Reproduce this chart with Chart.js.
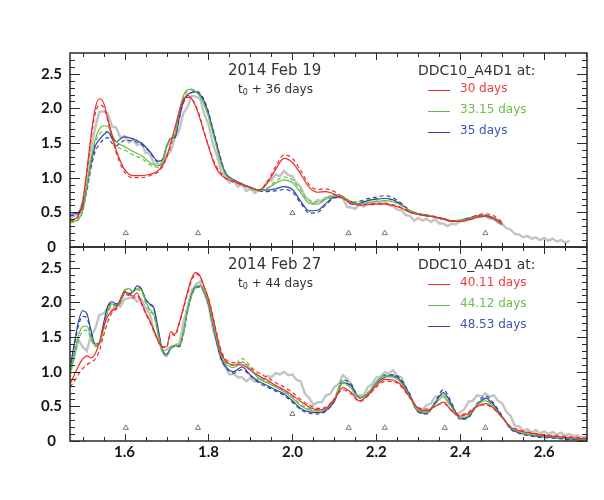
<!DOCTYPE html>
<html><head><meta charset="utf-8">
<script src="https://cdn.jsdelivr.net/npm/chart.js@4.4.0/dist/chart.umd.min.js"></script>
<style>
html,body{margin:0;padding:0;background:#fff;}
#wrap{position:relative;width:604px;height:500px;overflow:hidden;background:#fff;}
canvas{position:absolute;left:0;}
.t{position:absolute;white-space:nowrap;font-family:"DejaVu Sans",sans-serif;color:#333;z-index:5;}
.lg{position:absolute;height:0;width:22px;z-index:5;}
</style></head><body>
<div id="wrap">
<canvas id="c1" width="604" height="270" style="top:0px"></canvas>
<canvas id="c2" width="604" height="273" style="top:227px"></canvas>
</div>
<script>
// ---------------- DATA ----------------
const xTickValues = [1.6, 1.8, 2.0, 2.2, 2.4, 2.6];
const xMinorTicks = [1.5, 1.55, 1.65, 1.7, 1.75, 1.85, 1.9, 1.95, 2.05, 2.1, 2.15, 2.25, 2.3, 2.35, 2.45, 2.5, 2.55, 2.65, 2.7];
const yTickValues = [0, 0.5, 1.0, 1.5, 2.0, 2.5];
const yMinorTicks = [0.1, 0.2, 0.3, 0.4, 0.6, 0.7, 0.8, 0.9, 1.1, 1.2, 1.3, 1.4, 1.6, 1.7, 1.8, 1.9, 2.1, 2.2, 2.3, 2.4, 2.6, 2.7];

const panelDates = ['2014 Feb 19', '2014 Feb 27'];
const panelEpochs = ['36', '44'];
const modelName = 'DDC10_A4D1 at:';
const legendTop = ['30 days', '33.15 days', '35 days'];
const legendBottom = ['40.11 days', '44.12 days', '48.53 days'];

// observed spectrum wavelengths
const obsWave = [1.47,1.48,1.49,1.50,1.51,1.52,1.53,1.54,1.55,1.56,1.57,1.58,1.59,1.60,1.61,1.62,1.63,1.64,1.65,1.66,1.67,1.68,1.69,1.70,1.71,1.72,1.73,1.74,1.75,1.76,1.77,1.78,1.79,1.80,1.81,1.82,1.83,1.84,1.85,1.86,1.87,1.88,1.89,1.90,1.91,1.92,1.93,1.94,1.95,1.96,1.97,1.98,1.99,2.00,2.01,2.02,2.03,2.04,2.05,2.06,2.07,2.08,2.09,2.10,2.11,2.12,2.13,2.14,2.15,2.16,2.17,2.18,2.19,2.20,2.21,2.22,2.23,2.24,2.25,2.26,2.27,2.28,2.29,2.30,2.31,2.32,2.33,2.34,2.35,2.36,2.37,2.38,2.39,2.40,2.41,2.42,2.43,2.44,2.45,2.46,2.47,2.48,2.49,2.50,2.51,2.52,2.53,2.54,2.55,2.56,2.57,2.58,2.59,2.60,2.61,2.62,2.63,2.64,2.65,2.66,2.67,2.68,2.69,2.70];

const obsTop = [0.42,0.45,0.47,0.64,0.93,1.42,1.72,1.95,1.96,1.93,1.74,1.72,1.58,1.60,1.51,1.55,1.47,1.50,1.36,1.35,1.21,1.20,1.16,1.34,1.38,1.58,1.68,1.93,2.02,2.18,2.17,2.14,1.92,1.77,1.49,1.32,1.09,1.02,0.93,0.95,0.87,0.90,0.81,0.84,0.78,0.82,0.84,0.95,0.96,1.05,1.02,1.10,1.04,1.02,0.92,0.87,0.72,0.68,0.62,0.68,0.66,0.72,0.70,0.76,0.72,0.71,0.58,0.57,0.55,0.62,0.58,0.64,0.61,0.66,0.62,0.65,0.60,0.59,0.54,0.53,0.46,0.45,0.38,0.42,0.38,0.41,0.36,0.40,0.34,0.34,0.30,0.34,0.33,0.37,0.37,0.41,0.41,0.45,0.44,0.45,0.41,0.41,0.35,0.33,0.27,0.25,0.19,0.18,0.14,0.16,0.12,0.14,0.10,0.13,0.09,0.12,0.08,0.10,0.06,0.09];

const obsBottom = [1.05,1.22,1.46,1.36,1.30,1.52,1.62,1.82,1.84,1.92,1.88,1.97,1.94,2.05,2.06,2.08,2.01,2.05,1.92,1.84,1.58,1.47,1.30,1.32,1.36,1.38,1.38,1.70,1.93,2.17,2.26,2.30,2.14,1.97,1.63,1.42,1.18,1.07,0.96,0.97,0.92,0.92,0.86,0.91,0.86,0.90,0.88,0.94,0.92,0.98,0.96,1.00,0.95,0.96,0.88,0.86,0.68,0.62,0.52,0.56,0.56,0.66,0.68,0.78,0.82,0.95,0.90,0.82,0.64,0.66,0.66,0.78,0.82,0.92,0.93,0.99,0.98,1.02,0.94,0.92,0.76,0.67,0.50,0.48,0.45,0.52,0.54,0.64,0.64,0.68,0.56,0.50,0.38,0.42,0.46,0.57,0.58,0.66,0.64,0.69,0.64,0.66,0.58,0.54,0.42,0.36,0.22,0.21,0.15,0.17,0.12,0.16,0.11,0.14,0.10,0.13,0.09,0.12,0.08,0.10,0.07,0.08,0.05,0.06];

// model wavelengths
const waveTop = [1.47,1.48,1.49,1.50,1.51,1.52,1.53,1.54,1.55,1.56,1.57,1.58,1.59,1.60,1.62,1.64,1.66,1.68,1.69,1.70,1.71,1.72,1.73,1.74,1.75,1.76,1.77,1.78,1.79,1.80,1.81,1.82,1.83,1.84,1.86,1.88,1.90,1.92,1.94,1.96,1.98,2.00,2.02,2.04,2.06,2.08,2.10,2.12,2.14,2.16,2.18,2.20,2.22,2.24,2.26,2.28,2.30,2.32,2.34,2.36,2.38,2.40,2.42,2.44,2.46,2.48,2.50];

const redTop = [0.38,0.40,0.45,0.65,1.10,1.60,2.00,2.14,2.08,1.85,1.62,1.40,1.24,1.12,1.03,1.03,1.05,1.10,1.18,1.30,1.50,1.72,1.95,2.12,2.19,2.14,2.02,1.85,1.64,1.45,1.26,1.12,1.04,0.99,0.95,0.90,0.86,0.82,0.92,1.12,1.28,1.22,1.05,0.86,0.79,0.80,0.76,0.70,0.64,0.60,0.61,0.62,0.62,0.60,0.56,0.50,0.47,0.45,0.43,0.40,0.37,0.37,0.39,0.43,0.45,0.42,0.34];
const redTopD = [0.37,0.39,0.44,0.62,1.05,1.55,1.92,2.05,2.02,1.82,1.58,1.36,1.20,1.08,1.00,1.00,1.03,1.08,1.16,1.28,1.46,1.70,1.93,2.08,2.16,2.14,2.04,1.87,1.66,1.46,1.28,1.15,1.06,1.00,0.94,0.89,0.85,0.82,0.94,1.16,1.33,1.28,1.10,0.90,0.83,0.84,0.80,0.72,0.66,0.61,0.62,0.63,0.63,0.61,0.57,0.51,0.48,0.46,0.44,0.41,0.38,0.38,0.41,0.46,0.48,0.45,0.36];
const greenTop = [0.36,0.37,0.40,0.52,0.85,1.25,1.55,1.70,1.75,1.74,1.62,1.52,1.48,1.45,1.38,1.32,1.22,1.17,1.24,1.45,1.56,1.62,1.95,2.18,2.27,2.28,2.24,2.17,2.05,1.88,1.65,1.42,1.20,1.05,0.96,0.90,0.85,0.81,0.84,0.92,0.97,0.93,0.78,0.63,0.62,0.69,0.74,0.72,0.64,0.62,0.64,0.66,0.67,0.65,0.60,0.52,0.48,0.45,0.43,0.40,0.37,0.38,0.40,0.44,0.45,0.41,0.33];
const greenTopD = [0.35,0.36,0.39,0.50,0.82,1.20,1.50,1.63,1.67,1.66,1.56,1.46,1.42,1.40,1.33,1.28,1.19,1.15,1.20,1.42,1.55,1.60,1.92,2.15,2.25,2.27,2.24,2.18,2.07,1.90,1.67,1.44,1.22,1.06,0.96,0.90,0.85,0.81,0.85,0.95,1.01,0.97,0.82,0.67,0.65,0.71,0.75,0.73,0.66,0.65,0.68,0.70,0.70,0.67,0.61,0.53,0.49,0.46,0.44,0.41,0.38,0.39,0.42,0.45,0.46,0.42,0.34];
const blueTop = [0.47,0.48,0.50,0.58,0.85,1.20,1.45,1.55,1.62,1.66,1.58,1.52,1.56,1.59,1.56,1.50,1.38,1.24,1.26,1.45,1.57,1.58,1.85,2.10,2.20,2.23,2.24,2.20,2.10,1.93,1.70,1.47,1.24,1.07,0.97,0.91,0.86,0.82,0.82,0.84,0.87,0.83,0.66,0.52,0.53,0.63,0.72,0.72,0.62,0.63,0.67,0.69,0.70,0.68,0.61,0.52,0.47,0.45,0.43,0.40,0.37,0.38,0.40,0.43,0.44,0.40,0.32];
const blueTopD = [0.45,0.46,0.48,0.55,0.80,1.14,1.38,1.48,1.55,1.58,1.50,1.46,1.50,1.54,1.53,1.48,1.37,1.23,1.25,1.44,1.56,1.58,1.84,2.08,2.19,2.23,2.25,2.22,2.12,1.95,1.72,1.49,1.26,1.08,0.97,0.91,0.86,0.81,0.80,0.81,0.83,0.79,0.63,0.49,0.50,0.61,0.71,0.72,0.64,0.66,0.70,0.72,0.74,0.71,0.63,0.53,0.48,0.46,0.43,0.41,0.38,0.39,0.42,0.45,0.46,0.41,0.33];

const waveBottom = [1.47,1.48,1.49,1.50,1.51,1.52,1.53,1.54,1.55,1.56,1.57,1.58,1.59,1.60,1.61,1.62,1.63,1.64,1.65,1.66,1.67,1.68,1.69,1.70,1.71,1.72,1.73,1.74,1.75,1.76,1.77,1.78,1.79,1.80,1.81,1.82,1.83,1.84,1.86,1.88,1.90,1.92,1.94,1.96,1.98,2.00,2.02,2.04,2.06,2.08,2.10,2.12,2.14,2.16,2.18,2.20,2.22,2.24,2.26,2.28,2.30,2.32,2.34,2.36,2.38,2.40,2.42,2.44,2.46,2.48,2.50,2.52,2.54,2.56,2.58,2.60,2.62,2.64,2.66,2.68,2.70];

const redBottom = [0.82,0.95,1.08,1.18,1.23,1.20,1.26,1.42,1.65,1.80,1.88,1.92,2.05,2.16,2.12,2.09,2.14,2.00,1.86,1.74,1.60,1.45,1.36,1.36,1.58,1.54,1.70,1.92,2.15,2.35,2.43,2.38,2.22,2.05,1.80,1.52,1.28,1.16,1.10,1.10,1.02,0.94,0.88,0.80,0.74,0.66,0.57,0.49,0.45,0.47,0.60,0.77,0.70,0.58,0.66,0.80,0.89,0.88,0.80,0.63,0.47,0.44,0.50,0.56,0.43,0.36,0.40,0.50,0.54,0.47,0.34,0.20,0.15,0.12,0.10,0.08,0.07,0.06,0.05,0.04,0.03];
const redBottomD = [0.78,0.86,0.96,1.04,1.10,1.14,1.18,1.30,1.52,1.72,1.85,1.90,2.00,2.12,2.10,2.06,2.10,1.98,1.84,1.72,1.58,1.44,1.35,1.35,1.55,1.52,1.68,1.90,2.12,2.32,2.41,2.37,2.22,2.06,1.82,1.55,1.31,1.19,1.13,1.13,1.06,0.98,0.92,0.84,0.78,0.70,0.60,0.52,0.47,0.49,0.61,0.74,0.68,0.57,0.65,0.78,0.86,0.86,0.78,0.62,0.48,0.46,0.51,0.54,0.44,0.38,0.42,0.50,0.52,0.46,0.34,0.21,0.16,0.13,0.11,0.09,0.08,0.07,0.06,0.05,0.04];
const greenBottom = [0.95,1.25,1.52,1.65,1.66,1.50,1.38,1.40,1.62,1.88,1.98,1.95,2.00,2.18,2.20,2.15,2.20,2.18,2.02,1.90,1.82,1.55,1.30,1.22,1.33,1.38,1.38,1.56,1.88,2.10,2.22,2.24,2.15,2.00,1.72,1.45,1.24,1.12,1.06,1.14,1.04,0.90,0.84,0.78,0.71,0.62,0.51,0.45,0.43,0.46,0.60,0.84,0.76,0.62,0.69,0.84,0.93,0.92,0.83,0.64,0.44,0.42,0.53,0.64,0.48,0.33,0.37,0.52,0.58,0.49,0.34,0.19,0.13,0.10,0.08,0.07,0.06,0.05,0.04,0.03,0.02];
const greenBottomD = [0.92,1.20,1.45,1.58,1.60,1.47,1.36,1.40,1.60,1.85,1.96,1.94,2.00,2.16,2.20,2.16,2.18,2.16,2.00,1.88,1.80,1.54,1.30,1.23,1.34,1.40,1.40,1.58,1.90,2.11,2.22,2.23,2.14,1.99,1.72,1.46,1.25,1.14,1.09,1.19,1.08,0.93,0.86,0.80,0.73,0.64,0.53,0.47,0.45,0.48,0.62,0.87,0.78,0.63,0.70,0.86,0.95,0.93,0.84,0.65,0.45,0.43,0.55,0.68,0.50,0.34,0.38,0.54,0.60,0.50,0.34,0.19,0.13,0.10,0.08,0.07,0.06,0.05,0.04,0.03,0.02];
const blueBottom = [1.05,1.40,1.72,1.88,1.84,1.60,1.40,1.42,1.70,1.95,2.01,1.98,2.02,2.15,2.13,2.15,2.24,2.20,2.05,1.98,1.92,1.62,1.32,1.25,1.34,1.38,1.36,1.55,1.88,2.12,2.23,2.24,2.15,1.98,1.70,1.42,1.20,1.08,1.00,1.07,0.95,0.86,0.80,0.74,0.68,0.58,0.47,0.42,0.41,0.44,0.57,0.84,0.80,0.62,0.68,0.83,0.92,0.94,0.86,0.66,0.42,0.40,0.55,0.70,0.52,0.32,0.35,0.52,0.62,0.52,0.35,0.18,0.12,0.09,0.07,0.06,0.05,0.04,0.03,0.02,0.02];
const blueBottomD = [1.02,1.36,1.66,1.80,1.78,1.56,1.38,1.40,1.66,1.92,1.99,1.96,2.00,2.13,2.12,2.14,2.22,2.19,2.04,1.97,1.90,1.60,1.31,1.25,1.33,1.37,1.36,1.54,1.86,2.10,2.21,2.22,2.14,1.97,1.69,1.41,1.19,1.07,0.98,1.03,0.94,0.84,0.78,0.72,0.66,0.56,0.45,0.40,0.39,0.43,0.58,0.88,0.82,0.63,0.69,0.85,0.95,0.96,0.88,0.67,0.42,0.39,0.56,0.74,0.54,0.31,0.34,0.54,0.65,0.54,0.36,0.17,0.11,0.08,0.06,0.05,0.04,0.03,0.02,0.02,0.01];

// line-identification triangles
const markWaveTop = [1.603, 1.775, 2.0, 2.134, 2.22, 2.46];
const markLevelTop = [0.2, 0.2, 0.49, 0.2, 0.2, 0.2];
const markWaveBottom = [1.603, 1.775, 2.0, 2.134, 2.22, 2.363, 2.46];
const markLevelBottom = [0.19, 0.19, 0.39, 0.19, 0.19, 0.19, 0.19];

// ---------------- STYLE ----------------
const RED = '#ee2b2e', GREEN = '#62bf3e', BLUE = '#2f45a8', GRAY = 'rgba(170,170,170,0.7)';
const LBL_RED = '#ef3b3e', LBL_GREEN = '#6cc04a', LBL_BLUE = '#3f55b2';

function pts(w, v) { return v.map((y, i) => ({ x: w[i], y: y })); }
function modelDs(w, v, color, dashed) {
  return { type: 'line', data: pts(w, v), borderColor: color, borderWidth: 1.2,
    borderDash: dashed ? [4, 3] : [], pointRadius: 0, cubicInterpolationMode: 'monotone',
    fill: false, order: dashed ? 3 : 2 };
}
function obsDs(v) {
  return { type: 'line', data: pts(obsWave, v), borderColor: GRAY, borderWidth: 2.4,
    pointRadius: 0, tension: 0, fill: false, order: 10 };
}
function markDs(w, v) {
  return { type: 'scatter', data: pts(w, v), pointStyle: 'triangle', pointRadius: 3,
    borderColor: '#555', backgroundColor: 'rgba(0,0,0,0)', borderWidth: 0.8, order: 0 };
}

const frameTicks = {
  id: 'frameTicks',
  afterDraw(chart) {
    const { ctx, chartArea: a, scales: { x, y } } = chart;
    ctx.save();
    ctx.strokeStyle = '#2a2a2a';
    ctx.lineWidth = 1;
    ctx.beginPath();
    const xt = (v, len) => {
      const p = Math.round(x.getPixelForValue(v)) + 0.5;
      ctx.moveTo(p, a.bottom); ctx.lineTo(p, a.bottom - len);
      ctx.moveTo(p, a.top); ctx.lineTo(p, a.top + len);
    };
    const yt = (v, len) => {
      const p = Math.round(y.getPixelForValue(v)) + 0.5;
      ctx.moveTo(a.left, p); ctx.lineTo(a.left + len, p);
      ctx.moveTo(a.right, p); ctx.lineTo(a.right - len, p);
    };
    xTickValues.forEach(v => xt(v, 7));
    xMinorTicks.forEach(v => xt(v, 4));
    yTickValues.forEach(v => yt(v, 10));
    yMinorTicks.forEach(v => yt(v, 5));
    ctx.stroke();
    ctx.lineWidth = 1.5;
    ctx.strokeRect(a.left, a.top, a.right - a.left, a.bottom - a.top);
    ctx.restore();
  }
};

const tickFont = { family: 'Lato', weight: 'bold', size: 15 };

function makeChart(id, datasets, showX, padTop, padBottom) {
  return new Chart(document.getElementById(id), {
    type: 'line',
    data: { datasets: datasets },
    options: {
      responsive: false, animation: false, events: [],
      layout: { padding: { left: 0, right: 17, top: padTop, bottom: padBottom } },
      plugins: { legend: { display: false }, tooltip: { enabled: false } },
      scales: {
        x: { type: 'linear', min: 1.47, max: 2.702, display: showX,
          grid: { display: false, drawTicks: false }, border: { display: false },
          afterBuildTicks: s => { s.ticks = xTickValues.map(v => ({ value: v })); },
          afterFit: s => { s.height = showX ? 40 : 0; },
          ticks: { padding: 2, color: '#151515', font: tickFont, maxRotation: 0, autoSkip: false,
            callback: v => Number(v).toFixed(1) } },
        y: { type: 'linear', min: 0, max: 2.8,
          grid: { display: false, drawTicks: false }, border: { display: false },
          afterBuildTicks: s => { s.ticks = yTickValues.map(v => ({ value: v })); },
          afterFit: s => { s.width = 70; },
          ticks: { padding: 8, crossAlign: 'center', color: '#151515', font: tickFont, autoSkip: false,
            callback: v => (v === 0 ? '0' : Number(v).toFixed(1)) } }
      }
    },
    plugins: [frameTicks]
  });
}

const chartTop = makeChart('c1', [
  markDs(markWaveTop, markLevelTop),
  modelDs(waveTop, redTop, RED, false), modelDs(waveTop, greenTop, GREEN, false), modelDs(waveTop, blueTop, BLUE, false),
  modelDs(waveTop, redTopD, RED, true), modelDs(waveTop, greenTopD, GREEN, true), modelDs(waveTop, blueTopD, BLUE, true),
  obsDs(obsTop)
], false, 53, 23);

const chartBottom = makeChart('c2', [
  markDs(markWaveBottom, markLevelBottom),
  modelDs(waveBottom, redBottom, RED, false), modelDs(waveBottom, greenBottom, GREEN, false), modelDs(waveBottom, blueBottom, BLUE, false),
  modelDs(waveBottom, redBottomD, RED, true), modelDs(waveBottom, greenBottomD, GREEN, true), modelDs(waveBottom, blueBottomD, BLUE, true),
  obsDs(obsBottom)
], true, 20, 19);

// ---------------- ANNOTATIONS (HTML text) ----------------
const wrap = document.getElementById('wrap');
function addText(txt, left, cy, size, color, html) {
  const d = document.createElement('div');
  d.className = 't';
  if (html) d.innerHTML = txt; else d.textContent = txt;
  d.style.left = left + 'px';
  d.style.top = (cy - size * 0.6) + 'px';
  d.style.fontSize = size + 'px';
  d.style.lineHeight = (size * 1.2) + 'px';
  d.style.color = color;
  wrap.appendChild(d);
}
function addLine(left, y, color) {
  const d = document.createElement('div');
  d.className = 'lg';
  d.style.left = left + 'px';
  d.style.top = (y - 0.6) + 'px';
  d.style.borderTop = '1.3px solid ' + color;
  wrap.appendChild(d);
}
function annotate(chart, offsetTop, idx, labels) {
  const top = offsetTop + chart.chartArea.top;
  addText(panelDates[idx], 228, top + 17, 15, '#333');
  addText('t<sub style="font-size:8px;vertical-align:-2px">0</sub> + ' + panelEpochs[idx] + ' days', 238, top + 36, 12, '#333', true);
  addText(modelName, 418, top + 17, 14, '#333');
  const cols = [RED, GREEN, BLUE], lcols = [LBL_RED, LBL_GREEN, LBL_BLUE];
  labels.forEach((l, i) => {
    addLine(428, top + 38 + i * 21, cols[i]);
    addText(l, 460, top + 35.5 + i * 21, 12, lcols[i]);
  });
}
annotate(chartTop, 0, 0, legendTop);
annotate(chartBottom, 227, 1, legendBottom);
</script>
</body></html>
